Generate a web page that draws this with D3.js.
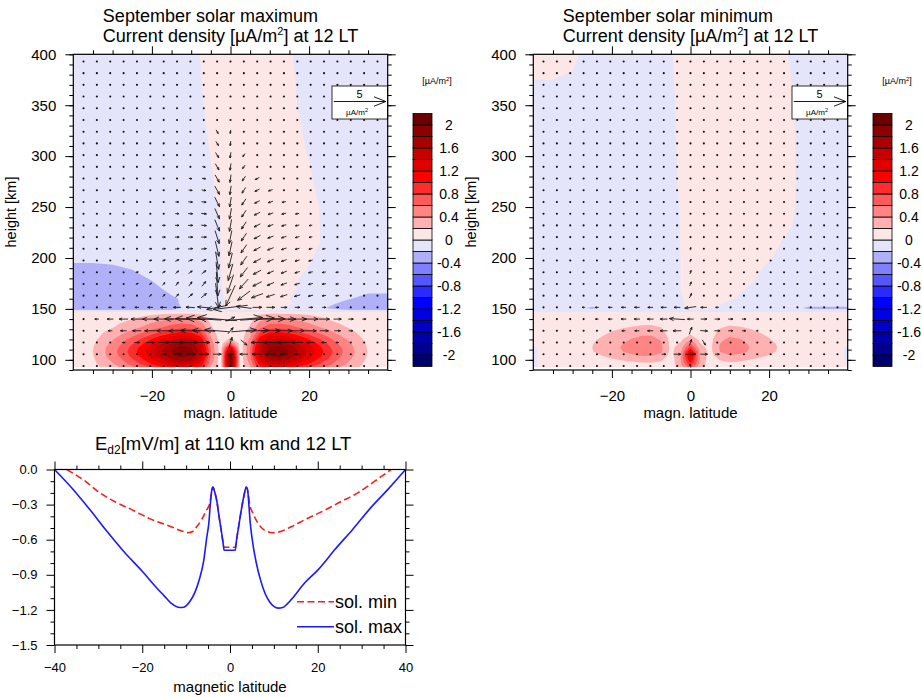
<!DOCTYPE html>
<html>
<head>
<meta charset="utf-8">
<script src="https://cdn.jsdelivr.net/npm/d3@7"></script>
<style>
body { margin: 0; background: #fff; }
svg { font-family: "Liberation Sans", Arial, Helvetica, sans-serif; }
</style>
</head>
<body>
<svg id="fig" width="922" height="697"></svg>
<script>
// ---- contour levels / colours ----
const levels = [-2,-1.8,-1.6,-1.4,-1.2,-1,-0.8,-0.6,-0.4,-0.2,0,0.2,0.4,0.6,0.8,1,1.2,1.4,1.6,1.8,2];
const levelColors = ["#00006a","#00008c","#0000a8","#0000c4","#0000e0","#0000ff","#2a2aff","#5555ff","#8080ff","#b0b0f8","#e4e4fa",
                     "#fde6e6","#ffb0b0","#ff8484","#ff5a5a","#ff2c2c","#ff0000","#e00000","#c40000","#a80000","#8c0000","#6a0000"];
const cbLabelLevels = [2,1.6,1.2,0.8,0.4,0,-0.4,-0.8,-1.2,-1.6,-2];

// ---- E-region grid (below 147 km) ----
const lowLats = [-40,-37.5,-35,-32.5,-30,-27.5,-25,-22.5,-20,-17.5,-15,-12.5,-10,-7.5,-5,-2.5,0,2.5,5,7.5,10,12.5,15,17.5,20,22.5,25,27.5,30,32.5,35,37.5,40];
const lowHeights = [93,96,100,104,108,112,116,120,124,128,132,136,140,144,147];

const jMaxLow = [
 [.08,.08,.12,.22,.32,.43,.56,.69,.84,.99,1.13,1.22,1.17,.93,.37,.08, 1.95, .08,.37,.93,1.18,1.21,1.12,.98,.83,.68,.55,.42,.31,.21,.12,.08,.08],
 [.08,.08,.15,.27,.38,.52,.67,.83,1.01,1.18,1.35,1.45,1.39,1.11,.44,.08, 2.1, .08,.44,1.11,1.41,1.44,1.33,1.17,.99,.81,.65,.5,.37,.25,.14,.08,.08],
 [.08,.09,.17,.31,.45,.6,.77,.96,1.17,1.38,1.57,1.69,1.62,1.29,.52,.08, 2.15, .08,.52,1.29,1.63,1.68,1.55,1.36,1.15,.95,.76,.58,.43,.29,.16,.09,.08],
 [.08,.1,.19,.35,.5,.67,.86,1.08,1.31,1.54,1.75,1.88,1.8,1.44,.58,.08, 2.12, .08,.58,1.44,1.82,1.87,1.73,1.52,1.29,1.06,.84,.65,.48,.33,.18,.1,.08],
 [.08,.1,.2,.36,.52,.7,.9,1.12,1.36,1.6,1.82,1.96,1.88,1.5,.6,.08, 1.85, .08,.6,1.5,1.9,1.95,1.8,1.58,1.34,1.1,.88,.68,.5,.34,.19,.1,.08],
 [.08,.1,.19,.35,.5,.67,.86,1.08,1.31,1.54,1.75,1.88,1.8,1.44,.58,.08, 1.3, .08,.58,1.44,1.82,1.87,1.73,1.52,1.29,1.06,.84,.65,.48,.33,.18,.1,.08],
 [.08,.09,.17,.31,.45,.61,.78,.97,1.18,1.39,1.58,1.71,1.64,1.31,.52,.08, .65, .08,.52,1.31,1.65,1.7,1.57,1.37,1.17,.96,.77,.59,.44,.3,.17,.09,.08],
 [.08,.08,.15,.27,.39,.53,.68,.84,1.02,1.2,1.37,1.47,1.41,1.13,.45,.08, .25, .08,.45,1.13,1.43,1.46,1.35,1.19,1.01,.83,.66,.51,.38,.26,.14,.08,.08],
 [.08,.08,.12,.22,.32,.43,.56,.69,.84,.99,1.13,1.22,1.17,.93,.37,.08, .12, .08,.37,.93,1.18,1.21,1.12,.98,.83,.68,.55,.42,.31,.21,.12,.08,.08],
 [.08,.08,.1,.18,.25,.34,.44,.55,.67,.78,.89,.96,.92,.74,.29,.08, .08, .08,.29,.74,.93,.96,.88,.77,.66,.54,.43,.33,.25,.17,.09,.08,.08],
 [.08,.08,.08,.13,.19,.26,.33,.41,.5,.59,.67,.73,.7,.56,.22,.08, .08, .08,.22,.56,.7,.72,.67,.58,.5,.41,.33,.25,.19,.13,.08,.08,.08],
 [.08,.08,.08,.11,.16,.21,.27,.34,.41,.48,.55,.59,.56,.45,.18,.08, .08, .08,.18,.45,.57,.59,.54,.47,.4,.33,.26,.2,.15,.1,.08,.08,.08],
 [.08,.08,.08,.08,.11,.15,.2,.25,.3,.35,.4,.43,.41,.33,.13,.08, .08, .08,.13,.33,.42,.43,.4,.35,.29,.24,.19,.15,.11,.08,.08,.08,.08],
 [.08,.08,.08,.08,.08,.11,.14,.17,.2,.24,.27,.29,.28,.23,.09,.08, .08, .08,.09,.23,.29,.29,.27,.24,.2,.17,.13,.1,.08,.08,.08,.08,.08],
 [.08,.08,.08,.08,.08,.08,.08,.08,.08,.08,.08,.08,.08,.08,.08,.08, .08, .08,.08,.08,.08,.08,.08,.08,.08,.08,.08,.08,.08,.08,.08,.08,.08]
];

const jMinLow = [
 [-.05,.08,.08,.08,.08,.08,.08,.08,.08,.08,.08,.08,.08,.08,.08, .3,.7,.28, .08,.08,.08,.08,.08,.08,.08,.08,.08,.08,.08,.08,.08,.08,.08],
 [-.05,.08,.08,.08,.08,.08,.08,.08,.1,.12,.14,.16,.17,.14,.08, .35,.95,.32, .08,.13,.16,.14,.12,.1,.08,.08,.08,.08,.08,.08,.08,.08,.08],
 [-.05,.08,.08,.08,.08,.08,.1,.14,.17,.21,.24,.27,.28,.23,.08, .4,1.2,.36, .08,.21,.26,.24,.2,.16,.13,.1,.08,.08,.08,.08,.08,.08,-.05],
 [-.05,.08,.08,.08,.08,.11,.15,.2,.26,.31,.36,.41,.41,.34,.11, .4,1.32,.36, .11,.32,.39,.36,.3,.24,.19,.14,.1,.08,.08,.08,.08,.08,-.05],
 [-.05,.08,.08,.08,.1,.14,.19,.26,.32,.39,.46,.51,.52,.43,.14, .35,1.25,.32, .14,.4,.49,.46,.38,.3,.24,.18,.12,.1,.08,.08,.08,.08,-.05],
 [-.05,.08,.08,.08,.1,.15,.2,.27,.34,.41,.48,.54,.55,.45,.15, .28,.9,.26, .15,.42,.52,.48,.4,.32,.25,.19,.13,.1,.08,.08,.08,.08,-.05],
 [.06,.08,.08,.08,.1,.14,.19,.26,.32,.39,.46,.51,.52,.43,.14, .22,.6,.2, .14,.4,.49,.46,.38,.3,.24,.18,.12,.1,.08,.08,.08,.08,.06],
 [.06,.08,.08,.08,.08,.13,.17,.23,.29,.35,.41,.46,.47,.38,.13, .16,.38,.14, .13,.36,.44,.41,.34,.27,.21,.16,.11,.08,.08,.08,.08,.08,.06],
 [.06,.08,.08,.08,.08,.11,.14,.19,.24,.3,.35,.39,.4,.32,.11, .1,.22,.09, .11,.3,.37,.35,.29,.23,.18,.14,.09,.08,.08,.08,.08,.08,.06],
 [.06,.08,.08,.08,.08,.09,.12,.16,.2,.24,.28,.31,.32,.26,.09, .08,.12,.08, .09,.24,.3,.28,.23,.19,.15,.11,.08,.08,.08,.08,.08,.08,.06],
 [.06,.08,.08,.08,.08,.08,.09,.12,.15,.18,.21,.24,.24,.2,.08, .08,.08,.08, .08,.18,.23,.21,.18,.14,.11,.08,.08,.08,.08,.08,.08,.08,.06],
 [.06,.08,.08,.08,.08,.08,.08,.08,.1,.12,.14,.16,.17,.14,.08, .08,.08,.08, .08,.13,.16,.14,.12,.1,.08,.08,.08,.08,.08,.08,.08,.08,.06],
 [.06,.08,.08,.08,.08,.08,.08,.08,.08,.08,.08,.08,.08,.08,.08, .08,.08,.08, .08,.08,.08,.08,.08,.08,.08,.08,.08,.08,.08,.08,.08,.08,.06],
 [.06,.08,.08,.08,.08,.08,.08,.08,.08,.08,.08,.08,.08,.08,.08, .08,.08,.08, .08,.08,.08,.08,.08,.08,.08,.08,.08,.08,.08,.08,.08,.08,.06],
 [.06,.08,.08,.08,.08,.08,.08,.08,.08,.08,.08,.08,.08,.08,.08, .08,.08,.08, .08,.08,.08,.08,.08,.08,.08,.08,.08,.08,.08,.08,.08,.08,.06]
];

// ---- upper grid (147-400 km) ----
const upLats = [-40,-35,-30,-25,-20,-15,-10,-5,0,5,10,15,20,25,30,35,40];
const upHeights = [147,151,155,160,170,180,190,200,215,230,250,300,350,400];

const jMaxUp = [
 [-.1,-.1,-.1,-.1,-.1,-.1,-.1,-.1,-.1,-.1,-.1,-.1,-.1,-.1,-.1,-.1,-.1],
 [-.3,-.3,-.3,-.3,-.3,-.3,-.1,-.1,.05,.1,.1,-.05,-.1,-.22,-.3,-.3,-.3],
 [-.3,-.3,-.3,-.3,-.3,-.26,-.1,-.1,.05,.1,.1,.02,-.1,-.15,-.3,-.3,-.3],
 [-.3,-.3,-.3,-.3,-.3,-.25,-.1,-.1,.05,.1,.1,0,-.1,-.1,-.18,-.3,-.3],
 [-.3,-.3,-.3,-.3,-.3,-.1,-.1,-.1,.08,.1,.1,.05,-.1,-.1,-.1,-.1,-.1],
 [-.3,-.3,-.3,-.3,-.17,-.1,-.1,-.1,.08,.1,.1,.1,-.1,-.1,-.1,-.1,-.1],
 [-.3,-.3,-.25,-.18,-.1,-.1,-.1,-.1,.1,.1,.1,.1,-.01,-.1,-.1,-.1,-.1],
 [-.1,-.1,-.1,-.1,-.1,-.1,-.1,-.1,.1,.1,.1,.1,.02,-.1,-.1,-.1,-.1],
 [-.1,-.1,-.1,-.1,-.1,-.1,-.1,-.1,.1,.1,.1,.1,.1,-.08,-.1,-.1,-.1],
 [-.1,-.1,-.1,-.1,-.1,-.1,-.1,-.1,.1,.1,.1,.1,.1,-.08,-.1,-.1,-.1],
 [-.1,-.1,-.1,-.1,-.1,-.1,-.1,-.05,.1,.1,.1,.1,.1,-.1,-.1,-.1,-.1],
 [-.1,-.1,-.1,-.1,-.1,-.1,-.1,.005,.1,.1,.1,.1,-.01,-.1,-.1,-.1,-.1],
 [-.1,-.1,-.1,-.1,-.1,-.1,-.1,.06,.1,.1,.1,.1,-.15,-.1,-.1,-.1,-.1],
 [-.1,-.1,-.1,-.1,-.1,-.1,-.1,.13,.1,.1,.1,.02,-.1,-.1,-.1,-.1,-.1]
];

const jMinUp = [
 [-.1,-.1,-.1,-.1,-.1,-.1,-.1,-.1,-.1,-.1,-.1,-.1,-.1,-.1,-.1,-.1,-.1],
 [-.1,-.1,-.1,-.24,-.1,-.1,-.1,-.1,.02,.02,-.1,-.1,-.1,-.1,-.24,-.24,-.24],
 [-.1,-.1,-.1,-.1,-.1,-.1,-.1,-.1,.05,.1,-.05,-.1,-.1,-.1,-.1,-.1,-.1],
 [-.1,-.1,-.1,-.1,-.1,-.1,-.1,-.1,.06,.1,.03,-.1,-.1,-.1,-.1,-.1,-.1],
 [-.1,-.1,-.1,-.1,-.1,-.1,-.1,-.1,.1,.1,.1,-.02,-.1,-.1,-.1,-.1,-.1],
 [-.1,-.1,-.1,-.1,-.1,-.1,-.1,-.1,.1,.1,.1,.05,-.1,-.1,-.1,-.1,-.1],
 [-.1,-.1,-.1,-.1,-.1,-.1,-.1,-.1,.1,.1,.1,.1,-.05,-.1,-.1,-.1,-.1],
 [-.1,-.1,-.1,-.1,-.1,-.1,-.1,-.1,.1,.1,.1,.1,.02,-.1,-.1,-.1,-.1],
 [-.1,-.1,-.1,-.1,-.1,-.1,-.1,-.08,.1,.1,.1,.1,.1,-.07,-.1,-.1,-.1],
 [-.1,-.1,-.1,-.1,-.1,-.1,-.1,-.08,.1,.1,.1,.1,.1,.02,-.1,-.1,-.1],
 [-.1,-.1,-.1,-.1,-.1,-.1,-.1,-.07,.1,.1,.1,.1,.1,.05,-.1,-.1,-.1],
 [-.1,-.1,-.1,-.1,-.1,-.1,-.1,-.04,.1,.1,.1,.1,.1,.05,-.1,-.1,-.1],
 [-.1,-.1,-.1,-.1,-.1,-.1,-.1,-.03,.1,.1,.1,.1,.1,.04,-.1,-.1,-.1],
 [.1,.1,.05,-.1,-.1,-.1,-.1,-.01,.1,.1,.1,.1,.1,-.005,-.1,-.1,-.1]
];

// ---- current vectors: grid + non-negligible arrows [lat, height, u, v] ----
const vecLats = [-37.4,-34,-30.6,-27.2,-23.8,-20.4,-17,-13.6,-10.2,-6.8,-3.4,0,3.4,6.8,10.2,13.6,17,20.4,23.8,27.2,30.6,34,37.4];
const vecHeights = [94,105.5,117,128.5,140,151.5,163,174.5,186,197.5,209,220.5,232,243.5,255,266.5,278,289.5,301,312.5,324,335.5,347,358.5,370,381.5,393];

const vecMax = [
 [-3.4,324,0.2,-0.35],[-3.4,312.5,0.25,-0.4],[-3.4,301,0.3,-0.5],[-3.4,289.5,0.35,-0.6],[-3.4,278,0.4,-0.7],[-3.4,266.5,0.45,-0.8],
 [-3.4,255,0.45,-0.9],[-3.4,243.5,0.45,-1.0],[-3.4,232,0.45,-1.1],[-3.4,220.5,0.4,-1.25],[-3.4,209,0.35,-1.45],[-3.4,197.5,0.3,-1.7],
 [-3.4,186,0.2,-2.0],[-3.4,174.5,0.15,-2.3],[-3.4,163,0.3,-2.4],
 [0,324,-0.05,-0.35],[0,312.5,-0.05,-0.45],[0,301,-0.08,-0.55],[0,289.5,-0.1,-0.65],[0,278,-0.1,-0.75],[0,266.5,-0.12,-0.85],
 [0,255,-0.15,-0.95],[0,243.5,-0.18,-1.05],[0,232,-0.2,-1.15],[0,220.5,-0.25,-1.25],[0,209,-0.3,-1.35],[0,197.5,-0.35,-1.45],
 [0,186,-0.45,-1.6],[0,174.5,-0.6,-1.8],[0,163,-0.9,-2.0],
 [3.4,301,-0.2,-0.3],[3.4,289.5,-0.25,-0.35],[3.4,278,-0.3,-0.45],[3.4,266.5,-0.35,-0.55],[3.4,255,-0.4,-0.6],[3.4,243.5,-0.42,-0.65],
 [3.4,232,-0.45,-0.7],[3.4,220.5,-0.5,-0.75],[3.4,209,-0.55,-0.8],[3.4,197.5,-0.6,-0.85],[3.4,186,-0.7,-0.9],[3.4,174.5,-0.85,-0.95],[3.4,163,-1.2,-0.9],
 [6.8,278,-0.4,-0.2],[6.8,266.5,-0.45,-0.22],[6.8,255,-0.5,-0.25],[6.8,243.5,-0.55,-0.28],[6.8,232,-0.6,-0.3],[6.8,220.5,-0.62,-0.32],
 [6.8,209,-0.65,-0.35],[6.8,197.5,-0.7,-0.38],[6.8,186,-0.75,-0.4],[6.8,174.5,-0.85,-0.42],[6.8,163,-1.1,-0.4],
 [10.2,266.5,-0.4,-0.12],[10.2,255,-0.45,-0.14],[10.2,243.5,-0.5,-0.16],[10.2,232,-0.52,-0.18],[10.2,220.5,-0.55,-0.2],[10.2,209,-0.58,-0.22],
 [10.2,197.5,-0.6,-0.24],[10.2,186,-0.62,-0.26],[10.2,174.5,-0.65,-0.28],[10.2,163,-0.8,-0.25],
 [13.6,255,-0.38,-0.08],[13.6,243.5,-0.42,-0.1],[13.6,232,-0.45,-0.12],[13.6,220.5,-0.48,-0.14],[13.6,209,-0.5,-0.16],[13.6,197.5,-0.52,-0.18],
 [13.6,186,-0.55,-0.2],[13.6,174.5,-0.58,-0.2],[13.6,163,-0.65,-0.2],
 [17,243.5,-0.35,-0.06],[17,232,-0.38,-0.08],[17,220.5,-0.4,-0.1],[17,209,-0.42,-0.12],[17,197.5,-0.45,-0.13],[17,186,-0.47,-0.14],[17,174.5,-0.5,-0.15],[17,163,-0.55,-0.15],
 [20.4,232,-0.3,-0.05],[20.4,220.5,-0.32,-0.06],[20.4,209,-0.35,-0.08],[20.4,197.5,-0.38,-0.1],[20.4,186,-0.4,-0.1],[20.4,174.5,-0.42,-0.1],[20.4,163,-0.45,-0.1],
 [23.8,209,-0.3,-0.05],[23.8,197.5,-0.32,-0.06],[23.8,186,-0.35,-0.06],[23.8,174.5,-0.36,-0.06],[23.8,163,-0.38,-0.05],
 [27.2,186,-0.3,-0.03],[27.2,174.5,-0.3,-0.03],[27.2,163,-0.32,0],
 [-6.8,289.5,0.3,-0.05],[-6.8,278,0.35,-0.05],[-6.8,266.5,0.4,-0.05],[-6.8,255,0.45,-0.05],[-6.8,243.5,0.5,-0.05],[-6.8,232,0.5,-0.05],
 [-6.8,220.5,0.5,0],[-6.8,209,0.5,0.05],[-6.8,197.5,0.45,0.15],[-6.8,186,0.4,0.3],[-6.8,174.5,0.35,0.45],[-6.8,163,0.5,0.4],
 [-10.2,278,0.3,-0.03],[-10.2,266.5,0.35,-0.03],[-10.2,255,0.4,-0.03],[-10.2,243.5,0.42,-0.02],[-10.2,232,0.45,0],[-10.2,220.5,0.45,0],
 [-10.2,209,0.45,0.05],[-10.2,197.5,0.4,0.15],[-10.2,186,0.35,0.25],[-10.2,174.5,0.3,0.4],[-10.2,163,0.4,0.35],
 [-13.6,255,0.32,0],[-13.6,243.5,0.35,0],[-13.6,232,0.38,0],[-13.6,220.5,0.4,0],[-13.6,209,0.4,0.05],[-13.6,197.5,0.35,0.15],
 [-13.6,186,0.3,0.25],[-13.6,174.5,0.25,0.35],[-13.6,163,0.3,0.3],
 [-17,232,0.3,0],[-17,220.5,0.32,0],[-17,209,0.33,0.03],[-17,197.5,0.3,0.1],[-17,186,0.28,0.18],[-17,174.5,0.25,0.25],[-17,163,0.25,0.25],
 [-20.4,209,0.28,0],[-20.4,197.5,0.27,0.05],[-20.4,186,0.25,0.12],[-20.4,174.5,0.22,0.18],[-20.4,163,0.2,0.2],
 [-23.8,186,0.25,0.05],[-23.8,174.5,0.22,0.1],[-23.8,163,0.2,0.12],
 [-30.6,151.5,-0.3,0],[-27.2,151.5,-0.35,0],[-23.8,151.5,-0.4,0],[-20.4,151.5,-0.5,0],[-17,151.5,-0.6,0],[-13.6,151.5,-0.7,0],
 [-10.2,151.5,-0.85,0.05],[-6.8,151.5,-1.2,0.1],[-3.4,151.5,-2.0,-0.4],[0,151.5,-3.3,-0.4],[3.4,151.5,-1.5,0.2],[6.8,151.5,0.9,0],
 [10.2,151.5,0.8,0],[13.6,151.5,0.6,0],[17,151.5,0.5,0],[20.4,151.5,0.4,0],[23.8,151.5,0.35,0],[27.2,151.5,0.3,0],
 [-34,140,-0.4,0],[-30.6,140,-0.6,0],[-27.2,140,-0.85,0],[-23.8,140,-1.15,0],[-20.4,140,-1.5,0],[-17,140,-1.9,0],[-13.6,140,-2.4,0.05],
 [-10.2,140,-2.9,0.1],[-6.8,140,-3.4,0.2],[-3.4,140,-3.8,0.3],[0,140,0.8,0.4],[3.4,140,3.6,0.3],[6.8,140,3.3,0.2],[10.2,140,2.8,0.05],
 [13.6,140,2.3,0],[17,140,1.8,0],[20.4,140,1.4,0],[23.8,140,1.05,0],[27.2,140,0.75,0],[30.6,140,0.5,0],[34,140,0.35,0],
 [-30.6,128.5,-0.4,0],[-27.2,128.5,-0.6,0],[-23.8,128.5,-0.85,0],[-20.4,128.5,-1.1,0],[-17,128.5,-1.35,0],[-13.6,128.5,-1.6,0],
 [-10.2,128.5,-1.9,0.05],[-6.8,128.5,-2.2,0.1],[-3.4,128.5,-2.4,0.2],[0,128.5,0.5,0.6],[3.4,128.5,2.4,0.2],[6.8,128.5,2.2,0.1],
 [10.2,128.5,1.9,0.05],[13.6,128.5,1.6,0],[17,128.5,1.35,0],[20.4,128.5,1.1,0],[23.8,128.5,0.85,0],[27.2,128.5,0.6,0],[30.6,128.5,0.4,0],
 [-27.2,117,0.3,0],[-23.8,117,0.5,0],[-20.4,117,0.8,0],[-17,117,1.1,0],[-13.6,117,1.3,0],[-10.2,117,1.4,0],[-6.8,117,1.2,0],[-3.4,117,0.4,0],
 [0,117,0.3,1.0],[3.4,117,0.6,-0.5],[6.8,117,-1.2,0],[10.2,117,-1.4,0],[13.6,117,-1.3,0],[17,117,-1.1,0],[20.4,117,-0.8,0],[23.8,117,-0.5,0],[27.2,117,-0.3,0],
 [-17,105.5,0.5,0],[-13.6,105.5,0.8,0],[-10.2,105.5,1.0,0],[-6.8,105.5,1.0,0],[-3.4,105.5,0.8,0],[0,105.5,-0.6,0],
 [3.4,105.5,-0.8,0],[6.8,105.5,-1.0,0],[10.2,105.5,-1.0,0],[13.6,105.5,-0.8,0],[17,105.5,-0.5,0]
];

const vecMin = [
 [0,209,0.05,0.25],[0,197.5,0.1,0.3],[0,186,0.1,0.35],[0,174.5,0.15,0.4],[0,163,0.2,0.45],
 [-27.2,151.5,-0.3,0],[-23.8,151.5,-0.35,0],[-20.4,151.5,-0.4,0],[-17,151.5,-0.45,0],[-13.6,151.5,-0.5,0],[-10.2,151.5,-0.5,0],
 [-6.8,151.5,-0.55,0],[-3.4,151.5,-0.6,0],[0,151.5,-1.1,-0.15],[3.4,151.5,-0.6,0],[6.8,151.5,-0.3,0],
 [-23.8,140,-0.3,0],[-20.4,140,-0.4,0],[-17,140,-0.5,0],[-13.6,140,-0.55,0],[-10.2,140,-0.6,0],[-6.8,140,-0.7,0],[-3.4,140,-1.5,0.1],
 [0,140,-0.6,0],[3.4,140,0.6,0],[6.8,140,0.5,0],[10.2,140,0.45,0],[13.6,140,0.4,0],[17,140,0.3,0],
 [-17,128.5,-0.35,0],[-13.6,128.5,-0.45,0],[-10.2,128.5,-0.55,0],[-6.8,128.5,-0.7,0],[-3.4,128.5,-0.8,0],[0,128.5,0.25,0.7],
 [3.4,128.5,0.7,-0.05],[6.8,128.5,0.55,0],[10.2,128.5,0.45,0],[13.6,128.5,0.35,0],
 [0,117,0.2,0.6],[3.4,117,0.3,-0.5],
 [-6.8,105.5,0.4,0],[-3.4,105.5,0.7,0],[0,105.5,1.0,0],[3.4,105.5,0.7,0],[6.8,105.5,0.4,0],
 [0,94,-0.1,0.35]
];

// ---- Ed2 at 110 km ----
const edLatMax = [-40,-36,-32,-28,-24,-20,-17,-15,-13.5,-12,-11,-10,-9,-8,-7,-6,-5.3,-4.8,-4.5,-4.2,-3.9,-3.5,-3,-2.5,-2,-1.6,-1.35,
                  1.2,1.5,2,2.6,3.2,3.7,4,4.3,4.6,5,6,7,8,9,10,11,12,13,14,17,20,24,28,32,36,40];
const edMax = [0,-0.16,-0.34,-0.53,-0.71,-0.87,-1.0,-1.08,-1.14,-1.175,-1.18,-1.165,-1.12,-1.05,-0.94,-0.78,-0.58,-0.45,-0.3,-0.19,-0.15,-0.19,-0.27,-0.4,-0.52,-0.62,-0.69,
               -0.69,-0.6,-0.48,-0.34,-0.22,-0.15,-0.17,-0.3,-0.45,-0.58,-0.8,-0.95,-1.06,-1.13,-1.17,-1.185,-1.18,-1.15,-1.11,-0.97,-0.86,-0.68,-0.51,-0.33,-0.17,0];
const edLatMin = [-37.2,-33,-29.65,-26,-22,-18.3,-14,-11,-9.6,-8.5,-7.6,-6.5,-5.4,-4.6,-4.2,-3.9,-3.5,-3,-2.5,-2,-1.6,-1.35,
                  1.2,1.5,2,2.6,3.2,3.7,4.1,4.5,5.3,6.4,7.9,9.8,11,13.96,17,21.5,25,29.1,33,36.7];
const edMin = [0,-0.1,-0.2,-0.28,-0.35,-0.42,-0.48,-0.525,-0.54,-0.53,-0.49,-0.43,-0.35,-0.29,-0.2,-0.15,-0.19,-0.27,-0.4,-0.52,-0.62,-0.665,
               -0.665,-0.6,-0.48,-0.34,-0.22,-0.15,-0.2,-0.3,-0.38,-0.46,-0.52,-0.54,-0.535,-0.49,-0.43,-0.35,-0.28,-0.2,-0.1,0];

// ---------------------------------------------------------------
const svg = d3.select("#fig");
const defs = svg.append("defs");
const ARROW_PX = 10.4;   // px per µA/m² (reference arrow: 5 -> 52 px)

function arrowD(cx, cy, dx, dy) {
  const len = Math.hypot(dx, dy);
  const x0 = cx - dx / 2, y0 = cy - dy / 2, x1 = cx + dx / 2, y1 = cy + dy / 2;
  const hl = Math.min(13, 0.22 * len + 1.2), a = Math.atan2(dy, dx), w = 0.38;
  const hx1 = x1 - hl * Math.cos(a - w), hy1 = y1 - hl * Math.sin(a - w);
  const hx2 = x1 - hl * Math.cos(a + w), hy2 = y1 - hl * Math.sin(a + w);
  return `M${x0},${y0}L${x1},${y1}M${hx1},${hy1}L${x1},${y1}L${hx2},${hy2}`;
}

function contourLayer(g, lats, hts, rows, x, y, clipId) {
  const nx = lats.length, ny = hts.length;
  const vals = [].concat(...rows);
  const gx = d3.scaleLinear().domain(lats.map((d, i) => i + 0.5)).range(lats);
  const gy = d3.scaleLinear().domain(hts.map((d, i) => i + 0.5)).range(hts);
  const path = d3.geoPath(d3.geoTransform({
    point(px, py) { this.stream.point(x(gx(px)), y(gy(py))); }
  }));
  defs.append("clipPath").attr("id", clipId).append("rect")
    .attr("x", x(lats[0])).attr("y", y(hts[ny - 1]))
    .attr("width", x(lats[nx - 1]) - x(lats[0])).attr("height", y(hts[0]) - y(hts[ny - 1]));
  const cs = d3.contours().size([nx, ny]).thresholds([-99].concat(levels))(vals);
  g.append("g").attr("clip-path", `url(#${clipId})`)
    .selectAll("path").data(cs).join("path")
    .attr("d", path).attr("fill-rule", "evenodd")
    .attr("fill", (d, i) => levelColors[i]);
}

function frameTicks(g, x, y, xMajor, xMinor, yMajor, yMinor, fs, xPad, yPad, yfmt) {
  const left = x.range()[0], right = x.range()[1], top = y.range()[1], bottom = y.range()[0];
  const mk = (axis, tr) => g.append("g").attr("transform", tr).call(axis);
  const ax = [];
  ax.push(mk(d3.axisBottom(x).tickValues(xMajor).tickSize(8).tickSizeOuter(0).tickPadding(xPad), `translate(0,${bottom})`));
  ax.push(mk(d3.axisBottom(x).tickValues(xMinor).tickSize(4).tickSizeOuter(0).tickFormat(""), `translate(0,${bottom})`));
  ax.push(mk(d3.axisTop(x).tickValues(xMajor).tickSize(8).tickSizeOuter(0).tickFormat(""), `translate(0,${top})`));
  ax.push(mk(d3.axisTop(x).tickValues(xMinor).tickSize(4).tickSizeOuter(0).tickFormat(""), `translate(0,${top})`));
  ax.push(mk(d3.axisLeft(y).tickValues(yMajor).tickSize(8).tickSizeOuter(0).tickPadding(yPad).tickFormat(yfmt || null), `translate(${left},0)`));
  ax.push(mk(d3.axisLeft(y).tickValues(yMinor).tickSize(4).tickSizeOuter(0).tickFormat(""), `translate(${left},0)`));
  ax.push(mk(d3.axisRight(y).tickValues(yMajor).tickSize(8).tickSizeOuter(0).tickFormat(""), `translate(${right},0)`));
  ax.push(mk(d3.axisRight(y).tickValues(yMinor).tickSize(4).tickSizeOuter(0).tickFormat(""), `translate(${right},0)`));
  ax.forEach(a => {
    a.select(".domain").remove();
    a.attr("font-family", null).attr("font-size", fs);
    a.selectAll("line").attr("stroke", "#000").attr("stroke-width", 1);
    a.selectAll("text").attr("fill", "#000");
  });
  g.append("rect").attr("x", left).attr("y", top).attr("width", right - left).attr("height", bottom - top)
    .attr("fill", "none").attr("stroke", "#000").attr("stroke-width", 1.2);
}

// ---------------- top panels ----------------
const panels = [
  { x0: 73.3, name: "September solar maximum", low: jMaxLow, up: jMaxUp, vec: vecMax },
  { x0: 533.3, name: "September solar minimum", low: jMinLow, up: jMinUp, vec: vecMin }
];

panels.forEach((p, k) => {
  const x = d3.scaleLinear().domain([-40, 40]).range([p.x0, p.x0 + 314.4]);
  const y = d3.scaleLinear().domain([90, 400]).range([370, 54.3]);
  const g = svg.append("g");

  contourLayer(g, upLats, upHeights, p.up, x, y, "cu" + k);
  contourLayer(g, lowLats, lowHeights, p.low, x, y, "cl" + k);

  // vectors
  const vmap = new Map(p.vec.map(d => [d[0] + "|" + d[1], d]));
  let dpath = "";
  const dots = [];
  vecLats.forEach(la => vecHeights.forEach(h => {
    const v = vmap.get(la + "|" + h);
    if (v && Math.hypot(v[2], v[3]) * ARROW_PX >= 2.5) dpath += arrowD(x(la), y(h), v[2] * ARROW_PX, -v[3] * ARROW_PX);
    else dots.push([x(la), y(h)]);
  }));
  g.append("g").selectAll("circle").data(dots).join("circle")
    .attr("cx", d => d[0]).attr("cy", d => d[1]).attr("r", 1.05).attr("fill", "#111");
  g.append("path").attr("d", dpath).attr("fill", "none").attr("stroke", "#1a1a1a").attr("stroke-width", 0.9);

  // reference vector box
  const bx = x(40) - 55.7, by = 86;
  g.append("rect").attr("x", bx).attr("y", by).attr("width", 55.7).attr("height", 33)
    .attr("fill", "#fff").attr("stroke", "#000").attr("stroke-width", 0.8);
  g.append("text").attr("x", bx + 27.5).attr("y", by + 12).attr("text-anchor", "middle").attr("font-size", 11).text("5");
  g.append("path").attr("d", arrowD(bx + 27.8, by + 15.5, 5 * ARROW_PX, 0)).attr("fill", "none").attr("stroke", "#000").attr("stroke-width", 0.9);
  const ref = g.append("text").attr("x", bx + 25).attr("y", by + 29).attr("text-anchor", "middle").attr("font-size", 8).text("µA/m");
  ref.append("tspan").attr("font-size", 5.5).attr("dy", -3).text("2");

  frameTicks(g, x, y, [-20, 0, 20], [-35, -30, -25, -15, -10, -5, 5, 10, 15, 25, 30, 35],
    [100, 150, 200, 250, 300, 350, 400], d3.range(90, 401, 10), 15, 12, 9);

  // titles
  const cx = (x.range()[0] + x.range()[1]) / 2;
  const t2 = g.append("text").attr("y", 42).attr("font-size", 18).text("Current density [µA/m");
  t2.append("tspan").attr("font-size", 11).attr("dy", -7).text("2");
  t2.append("tspan").attr("dy", 7).text("] at 12 LT");
  const wTitle = t2.node().getComputedTextLength();
  t2.attr("x", cx - wTitle / 2);
  g.append("text").attr("x", cx - wTitle / 2).attr("y", 22).attr("font-size", 18).text(p.name);

  g.append("text").attr("x", cx).attr("y", 418).attr("text-anchor", "middle").attr("font-size", 15).text("magn. latitude");
  g.append("text").attr("transform", `translate(${p.x0 - 57},212) rotate(-90)`).attr("text-anchor", "middle")
    .attr("font-size", 14.5).text("height [km]");

  // colour bar
  const cbx = p.x0 + 339.7, cbTop = 113.5, cbH = 11.5;
  const cb = g.append("g");
  cb.selectAll("rect").data(levelColors).join("rect")
    .attr("x", cbx).attr("y", (d, i) => cbTop + (21 - i) * cbH).attr("width", 19).attr("height", cbH)
    .attr("fill", d => d).attr("stroke", "#000").attr("stroke-width", 0.8);
  cb.selectAll("text.lab").data(cbLabelLevels).join("text").attr("class", "lab")
    .attr("x", cbx + 36).attr("y", d => cbTop + (21 - levels.indexOf(d)) * cbH + 5)
    .attr("text-anchor", "middle").attr("font-size", 14).text(d => d);
  const ct = cb.append("text").attr("x", cbx + 24).attr("y", 84).attr("text-anchor", "middle").attr("font-size", 9).text("[µA/m");
  ct.append("tspan").attr("font-size", 6).attr("dy", -3).text("2");
  ct.append("tspan").attr("dy", 3).text("]");
});

// ---------------- bottom line chart ----------------
{
  const x = d3.scaleLinear().domain([-40, 40]).range([54.5, 405.5]);
  const y = d3.scaleLinear().domain([-1.5, 0]).range([645, 469.5]);
  const g = svg.append("g");
  const line = d3.line().x(d => x(d[0])).y(d => y(d[1])).curve(d3.curveMonotoneX);

  g.append("path").attr("d", line(d3.zip(edLatMin, edMin))).attr("fill", "none")
    .attr("stroke", "#ff1a1a").attr("stroke-width", 1.6).attr("stroke-dasharray", "7,3.5");
  g.append("path").attr("d", line(d3.zip(edLatMax, edMax))).attr("fill", "none")
    .attr("stroke", "#1a1aff").attr("stroke-width", 1.6);

  frameTicks(g, x, y, [-40, -20, 0, 20, 40], [-35, -30, -25, -15, -10, -5, 5, 10, 15, 25, 30, 35],
    [0, -0.3, -0.6, -0.9, -1.2, -1.5], [-1.4, -1.3, -1.1, -1.0, -0.8, -0.7, -0.5, -0.4, -0.2, -0.1], 13, 10, 9, d3.format(".1f"));

  const t = g.append("text").attr("x", 95).attr("y", 450).attr("font-size", 18.5).text("E");
  t.append("tspan").attr("font-size", 12).attr("dy", 4).text("d2");
  t.append("tspan").attr("dy", -4).text("[mV/m] at 110 km and 12 LT");
  g.append("text").attr("x", 230).attr("y", 692).attr("text-anchor", "middle").attr("font-size", 15).text("magnetic latitude");

  // legend
  const leg = [["sol. min", "#ff1a1a", "7,3.5", 601.7], ["sol. max", "#1a1aff", null, 626.7]];
  leg.forEach(l => {
    g.append("line").attr("x1", 297).attr("x2", 334).attr("y1", l[3]).attr("y2", l[3])
      .attr("stroke", l[1]).attr("stroke-width", 1.6).attr("stroke-dasharray", l[2]);
    g.append("text").attr("x", 335).attr("y", l[3] + 6).attr("font-size", 18).text(l[0]);
  });
}
</script>
</body>
</html>
